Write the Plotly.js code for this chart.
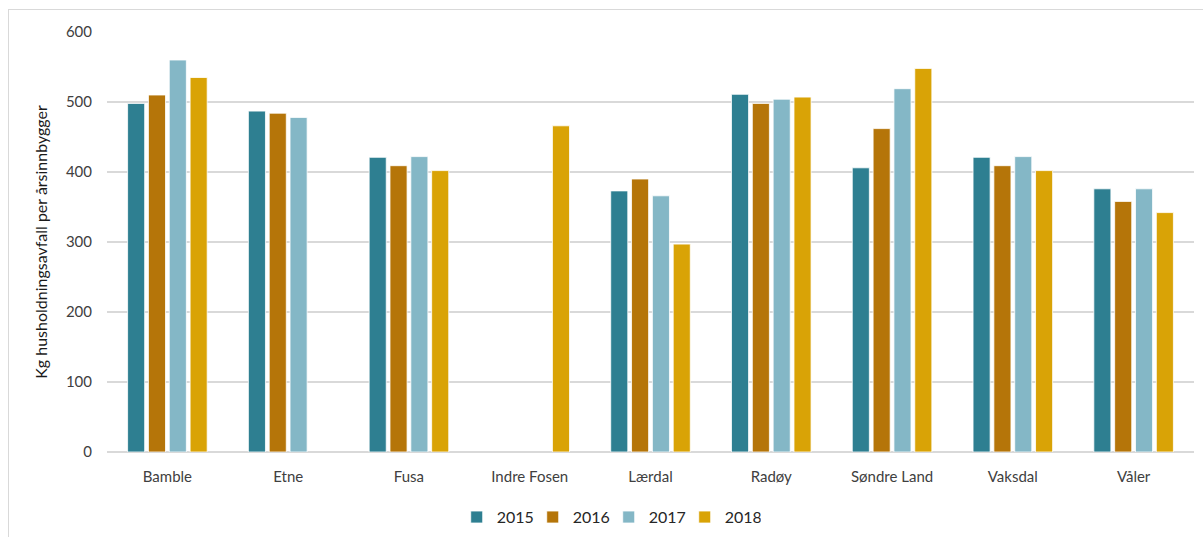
<!DOCTYPE html>
<html>
<head>
<meta charset="utf-8">
<script src="https://cdn.plot.ly/plotly-3.0.1.min.js"></script>
<style>
html,body{margin:0;padding:0;background:#fff;}
#wrap{position:relative;width:1203px;height:537px;overflow:hidden;}
#frame{position:absolute;left:8px;top:9px;width:1300px;height:600px;border:1px solid #d9d9d9;box-sizing:border-box;pointer-events:none;}
#chart{position:absolute;left:0;top:0;width:1203px;height:537px;}
</style>
</head>
<body>
<div id="wrap"><div id="frame"></div><div id="chart"></div></div>
<script>
const categories = ["Bamble", "Etne", "Fusa", "Indre Fosen", "Lærdal", "Radøy", "Søndre Land", "Vaksdal", "Våler"];
const years = ["2015", "2016", "2017", "2018"];
const v2015 = [498, 487, 421, null, 373, 511, 406, 421, 376];
const v2016 = [510, 484, 409, null, 390, 498, 462, 409, 358];
const v2017 = [560, 478, 422, null, 366, 504, 519, 422, 376];
const v2018 = [535, null, 402, 466, 297, 507, 548, 402, 342];
const yTicks = [0, 100, 200, 300, 400, 500, 600];
const colors = ["#2E7F91", "#B57509", "#84B7C6", "#D9A306"];
const series = [v2015, v2016, v2017, v2018];

const traces = series.map((vals, i) => ({
  type: "bar",
  name: years[i],
  x: categories,
  y: vals,
  marker: {color: colors[i], line: {color: "#ffffff", width: 0.8}},
  hoverinfo: "x+y+name"
}));

const layout = {
  width: 1203, height: 537,
  margin: {l: 107, r: 9, t: 32, b: 85, autoexpand: false},
  paper_bgcolor: "rgba(0,0,0,0)",
  plot_bgcolor: "rgba(0,0,0,0)",
  barmode: "group",
  bargap: 0.31,
  bargroupgap: 0.18,
  font: {family: "Lato, 'Liberation Sans', sans-serif", size: 15, color: "#404040"},
  showlegend: true,
  legend: {orientation: "h", x: 0.506, xref: "container", xanchor: "center",
           y: 0.037, yref: "container", yanchor: "middle",
           entrywidth: 31, entrywidthmode: "pixels", itemwidth: 30,
           font: {size: 16, color: "#262626"}, traceorder: "normal"},
  xaxis: {showgrid: false, showline: false, zeroline: false, ticks: "", automargin: false,
          ticklabelstandoff: 14,
          tickfont: {size: 15, color: "#404040"}, fixedrange: true},
  yaxis: {range: [0, 600], tickvals: yTicks, ticktext: yTicks.map(String), automargin: false,
          showgrid: true, gridcolor: "#d9d9d9", gridwidth: 1.5,
          zeroline: true, zerolinecolor: "#d9d9d9", zerolinewidth: 1.5,
          showline: false, ticks: "", ticklabelstandoff: 14,
          tickfont: {size: 15, color: "#404040"},
          title: {text: "Kg husholdningsavfall per årsinnbygger", font: {size: 16, color: "#1a1a1a"}, standoff: 14},
          fixedrange: true}
};

Plotly.newPlot("chart", traces, layout, {displayModeBar: false, staticPlot: true});
</script>
</body>
</html>
